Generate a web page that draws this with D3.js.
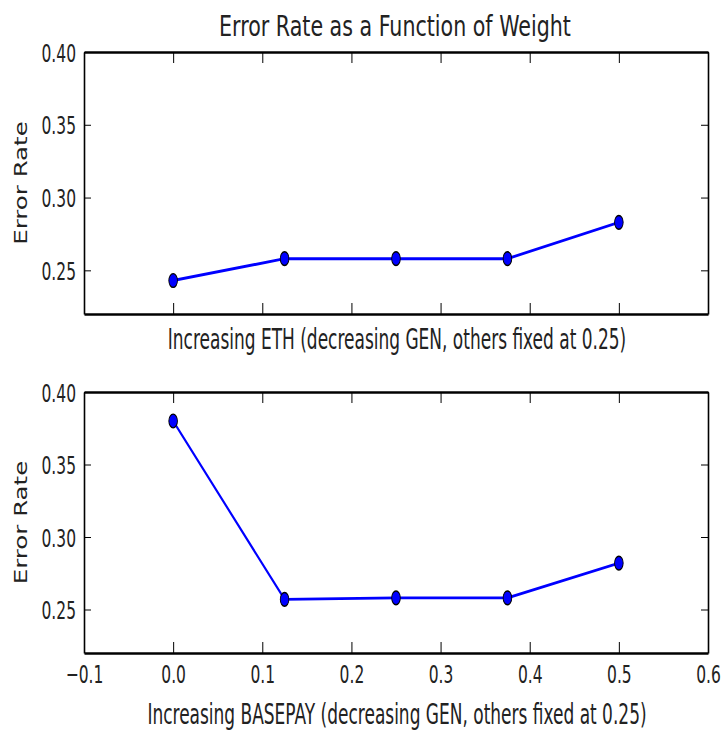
<!DOCTYPE html>
<html>
<head>
<meta charset="utf-8">
<script src="https://cdn.jsdelivr.net/npm/d3@7"></script>
<style>
  html, body { margin: 0; padding: 0; background: #fff; }
  svg { display: block; }
  text { font-family: "DejaVu Sans", sans-serif; fill: #222; }
</style>
</head>
<body>
<svg id="chart" width="722" height="732"></svg>
<script>
// Weights tried for the varied feature (x positions)
const weights = [0, 0.125, 0.25, 0.375, 0.5];
// Error rate while increasing ETH
const ethErrorRate = [0.243, 0.258, 0.258, 0.258, 0.283];
// Error rate while increasing BASEPAY
const basepayErrorRate = [0.380, 0.257, 0.258, 0.258, 0.282];

const xTicks = [-0.1, 0.0, 0.1, 0.2, 0.3, 0.4, 0.5, 0.6];
const yTicks = [0.25, 0.30, 0.35, 0.40];
const xDomain = [-0.1, 0.6];
const yDomain = [0.22, 0.40];

const chartTitle = "Error Rate as a Function of Weight";
const yLabel = "Error Rate";
const xLabels = [
  "Increasing ETH (decreasing GEN, others fixed at 0.25)",
  "Increasing BASEPAY (decreasing GEN, others fixed at 0.25)"
];

// Layout
const left = 84, right = 708;
const panels = [
  { top: 52, bottom: 314, values: ethErrorRate, label: xLabels[0], tickLabels: false, labelBase: 348.5 },
  { top: 392, bottom: 653, values: basepayErrorRate, label: xLabels[1], tickLabels: true, labelBase: 724 }
];
const stretch = 1.6;   // vertical stretch applied to plotted marks
const textStretch = 1.65;

const svg = d3.select("#chart");

// Title
svg.append("text")
  .attr("transform", `translate(395,36) scale(1,1.34)`)
  .attr("text-anchor", "middle")
  .style("font-size", "20.6px")
  .text(chartTitle);

const x = d3.scaleLinear().domain(xDomain).range([left, right]);

panels.forEach(p => {
  const y = d3.scaleLinear().domain(yDomain).range([p.bottom, p.top]);
  const g = svg.append("g");

  // Plotted line and markers live in a vertically stretched group
  const yIn = d3.scaleLinear().domain(yDomain).range([p.bottom / stretch, p.top / stretch]);
  const plot = g.append("g").attr("transform", `scale(1,${stretch})`);
  plot.append("path")
    .datum(weights.map((w, i) => [w, p.values[i]]))
    .attr("fill", "none")
    .attr("stroke", "#0000ff")
    .attr("stroke-width", 1.8)
    .attr("d", d3.line().x(d => x(d[0])).y(d => yIn(d[1])));
  plot.selectAll("circle")
    .data(weights.map((w, i) => [w, p.values[i]]))
    .join("circle")
    .attr("cx", d => x(d[0]))
    .attr("cy", d => yIn(d[1]))
    .attr("r", 4.3)
    .attr("fill", "#0000ff")
    .attr("stroke", "#000")
    .attr("stroke-width", 0.9);

  // Axes on all four sides, ticks pointing inward
  const yFmt = d3.format(".2f");
  const xFmt = d3.format(".1f");

  const axL = g.append("g").attr("transform", `translate(${left},0)`)
    .call(d3.axisLeft(y).tickValues(yTicks).tickFormat(yFmt).tickSizeInner(-7).tickSizeOuter(0).tickPadding(8));
  const axR = g.append("g").attr("transform", `translate(${right},0)`)
    .call(d3.axisRight(y).tickValues(yTicks).tickFormat("").tickSizeInner(-7).tickSizeOuter(0));
  const axT = g.append("g").attr("transform", `translate(0,${p.top})`)
    .call(d3.axisTop(x).tickValues(xTicks).tickFormat("").tickSizeInner(-11).tickSizeOuter(0));
  const axB = g.append("g").attr("transform", `translate(0,${p.bottom})`)
    .call(d3.axisBottom(x).tickValues(xTicks).tickFormat(p.tickLabels ? xFmt : "").tickSizeInner(-11).tickSizeOuter(0));

  [axL, axR].forEach(a => a.select(".domain").attr("stroke", "#000").attr("stroke-width", 1.6));
  [axT, axB].forEach(a => a.select(".domain").attr("stroke", "#000").attr("stroke-width", 2.4));
  [axL, axR, axT, axB].forEach(a => a.selectAll(".tick line").attr("stroke", "#000").attr("stroke-width", 1));

  axL.selectAll(".tick text")
    .attr("dy", null).attr("y", 0)
    .attr("dominant-baseline", "central")
    .attr("transform", `scale(1,${textStretch})`)
    .style("font-size", "15.5px").style("font-family", "DejaVu Sans").attr("fill", "#222");
  if (p.tickLabels) {
    axB.selectAll(".tick text")
      .attr("dy", null).attr("y", 0)
      .attr("dominant-baseline", "central")
      .attr("transform", `translate(0,21) scale(1,${textStretch})`)
      .style("font-size", "15.5px").style("font-family", "DejaVu Sans").attr("fill", "#222");
  }

  // Axis labels
  svg.append("text")
    .attr("transform", `translate(397,${p.labelBase}) scale(1,1.62)`)
    .attr("text-anchor", "middle")
    .style("font-size", "17px")
    .text(p.label);
  svg.append("text")
    .attr("transform", `translate(21,${(p.top + p.bottom) / 2}) rotate(-90) scale(1.44,1)`)
    .attr("text-anchor", "middle")
    .attr("dominant-baseline", "central")
    .style("font-size", "17px")
    .text(yLabel);
});
</script>
</body>
</html>
